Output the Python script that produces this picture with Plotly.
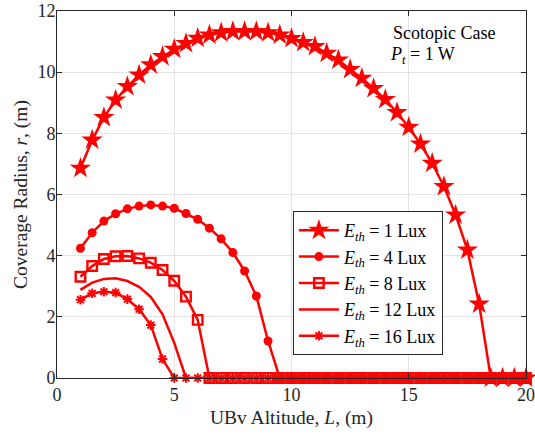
import plotly.graph_objects as go

x = [1 + 0.5 * i for i in range(39)]

r_1lux = [6.86, 7.78, 8.52, 9.09, 9.53, 9.91, 10.24, 10.51, 10.75, 10.94, 11.11, 11.22, 11.29,
          11.33, 11.33, 11.33, 11.29, 11.22, 11.10,
          10.97, 10.84, 10.62, 10.40, 10.09, 9.80, 9.47, 9.11, 8.68, 8.20, 7.65, 7.02, 6.26,
          5.33, 4.19, 2.42, 0, 0, 0, 0]
r_4lux = [4.24, 4.75, 5.13, 5.37, 5.53, 5.62, 5.66, 5.62, 5.55, 5.38, 5.19, 4.90, 4.55,
          4.10, 3.50, 2.68, 1.21] + [0] * 22
r_8lux = [3.31, 3.66, 3.89, 3.98, 3.99, 3.91, 3.77, 3.53, 3.18, 2.66, 1.90] + [0] * 28
r_12lux = [2.88, 3.12, 3.24, 3.26, 3.17, 2.98, 2.65, 2.08, 1.15] + [0] * 30
r_16lux = [2.56, 2.77, 2.82, 2.79, 2.58, 2.25, 1.73, 0.62] + [0] * 31

labels = ["1", "4", "8", "12", "16"]
series = [r_1lux, r_4lux, r_8lux, r_12lux, r_16lux]
RED = "#ff0000"
markers = [
    dict(symbol="star", size=16, color=RED, line=dict(width=0)),
    dict(symbol="circle", size=9, color=RED, line=dict(width=0)),
    dict(symbol="square-open", size=9.5, color=RED, line=dict(width=2.4, color=RED)),
    None,
    dict(symbol="asterisk-open", size=8, color=RED, line=dict(width=2, color=RED)),
]

fig = go.Figure()
for lab, y, m in zip(labels, series, markers):
    name = "<i>E</i><sub><i>th</i></sub> = %s Lux" % lab
    if m is None:
        fig.add_trace(go.Scatter(x=x[:len(y)], y=y, mode="lines", name=name, cliponaxis=False,
                                 line=dict(color=RED, width=2.5)))
    else:
        fig.add_trace(go.Scatter(x=x[:len(y)], y=y, mode="lines+markers", name=name, cliponaxis=False,
                                 line=dict(color=RED, width=2.5), marker=m))

FONT = "Liberation Serif"
axcol = "#262626"
common = dict(showgrid=True, gridcolor="#e3e3e3", gridwidth=1, showline=True,
              linecolor=axcol, linewidth=1, mirror="ticks", ticks="inside",
              ticklen=5, tickcolor=axcol, zeroline=False, automargin=False,
              tickfont=dict(family=FONT, size=18, color=axcol))
fig.update_layout(
    width=535, height=434,
    margin=dict(l=57, r=9, t=11, b=56),
    paper_bgcolor="white", plot_bgcolor="white",
    font=dict(family=FONT, color=axcol),
    xaxis=dict(range=[0, 20], tickvals=[0, 5, 10, 15, 20],
               title=dict(text="UBv Altitude, <i>L</i>, (m)", font=dict(family=FONT, size=19.5), standoff=6),
               **common),
    yaxis=dict(range=[0, 12], tickvals=[0, 2, 4, 6, 8, 10, 12], ticklabelstandoff=-3,
               title=dict(text="Coverage Radius, <i>r</i>, (m)", font=dict(family=FONT, size=19.5), standoff=4),
               **common),
    legend=dict(x=0.503, y=0.455, xanchor="left", yanchor="top",
                bgcolor="white", bordercolor=axcol, borderwidth=1,
                font=dict(family=FONT, size=18, color="black"),
                tracegroupgap=0, itemwidth=40),
    showlegend=True,
    annotations=[
        dict(x=16.5, y=11.28, xref="x", yref="y", text="Scotopic Case", showarrow=False,
             font=dict(family=FONT, size=18, color="black")),
        dict(x=14.1, y=10.56, xref="x", yref="y", xanchor="left",
             text="<i>P</i><sub><i>t</i></sub> = 1 W", showarrow=False,
             font=dict(family=FONT, size=18, color="black")),
    ],
)

fig.write_html("out.html")
